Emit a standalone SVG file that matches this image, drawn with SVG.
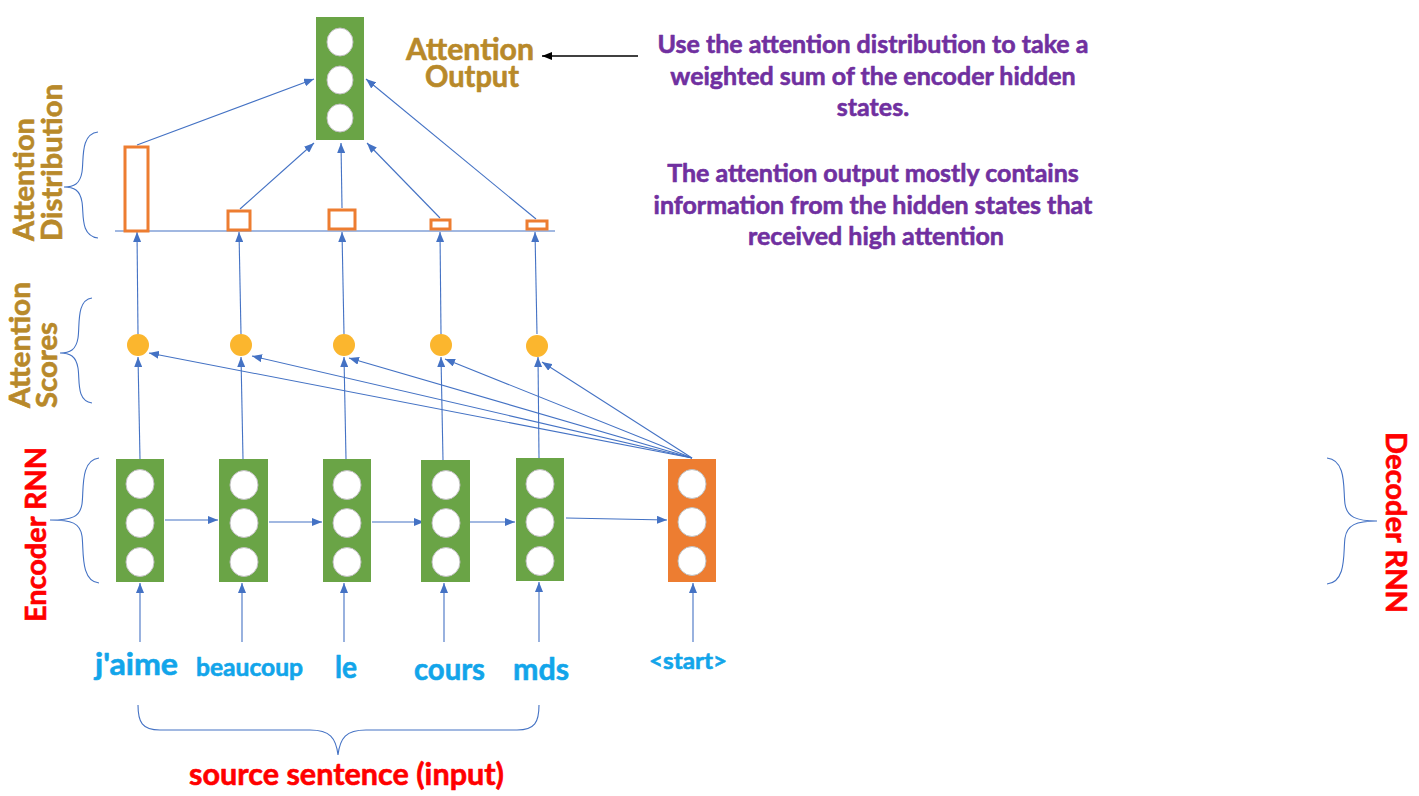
<svg xmlns="http://www.w3.org/2000/svg" width="1419" height="796" viewBox="0 0 1419 796">
<style>
.box{fill:#6AA446}
.dec{fill:#ED7D31}
.cell{fill:#fff;stroke:#BFBFBF;stroke-width:1}
.score{fill:#FBB62E}
.bar{fill:#fff;stroke:#ED7D31;stroke-width:3}
.ln{stroke:#4472C4;stroke-width:1.1;fill:none}
.arr{stroke:#4472C4;stroke-width:1.1;fill:none;marker-end:url(#ah)}
.brace{stroke:#4472C4;stroke-width:1.1;fill:none}
.t{font-family:Lato,"Liberation Sans",sans-serif;font-weight:bold;stroke-width:0.6;stroke-linejoin:round}
.gold{fill:#B8892A;stroke:#B8892A}
.red{fill:#FF0000;stroke:#FF0000}
.blue{fill:#12A5EA;stroke:#12A5EA}
.purple{fill:#7030A0;stroke:#7030A0}
</style>
<defs>
<marker id="ah" markerUnits="userSpaceOnUse" markerWidth="10" markerHeight="8" refX="10" refY="4" orient="auto"><path d="M0,0 L10,4 L0,8 z" fill="#4472C4"/></marker>
<marker id="ahk" markerUnits="userSpaceOnUse" markerWidth="10" markerHeight="8" refX="10" refY="4" orient="auto"><path d="M0,0 L10,4 L0,8 z" fill="#000"/></marker>
</defs>

<g id="connectors">
<line class="arr" x1="140" y1="642" x2="140" y2="583"/>
<line class="arr" x1="242" y1="642" x2="242" y2="583"/>
<line class="arr" x1="344" y1="642" x2="344" y2="583"/>
<line class="arr" x1="444" y1="642" x2="444" y2="583"/>
<line class="arr" x1="539" y1="642" x2="539" y2="582"/>
<line class="arr" x1="693" y1="642" x2="693" y2="583"/>
<line class="arr" x1="165" y1="520" x2="218" y2="520"/>
<line class="arr" x1="269" y1="522" x2="322" y2="522"/>
<line class="arr" x1="372" y1="522" x2="424" y2="522"/>
<line class="arr" x1="470" y1="522" x2="515" y2="522"/>
<line class="arr" x1="566" y1="518" x2="667" y2="520"/>
<line class="arr" x1="140" y1="459" x2="138" y2="357"/>
<line class="arr" x1="243" y1="459" x2="241" y2="357"/>
<line class="arr" x1="346" y1="459" x2="344" y2="357"/>
<line class="arr" x1="443" y1="460" x2="441" y2="357"/>
<line class="arr" x1="539" y1="458" x2="538" y2="357"/>
<line class="arr" x1="692" y1="458" x2="149" y2="353"/>
<line class="arr" x1="692" y1="458" x2="252" y2="356"/>
<line class="arr" x1="692" y1="458" x2="349" y2="358"/>
<line class="arr" x1="692" y1="458" x2="445" y2="359"/>
<line class="arr" x1="692" y1="458" x2="542" y2="362"/>
<line class="arr" x1="138" y1="334" x2="137" y2="232"/>
<line class="arr" x1="241" y1="334" x2="239" y2="232"/>
<line class="arr" x1="344" y1="334" x2="342" y2="232"/>
<line class="arr" x1="441" y1="334" x2="440" y2="232"/>
<line class="arr" x1="537" y1="334" x2="535" y2="232"/>
<line class="ln" x1="115" y1="231" x2="555" y2="231"/>
<line class="arr" x1="137" y1="145" x2="314" y2="79"/>
<line class="arr" x1="240" y1="209" x2="314" y2="143"/>
<line class="arr" x1="342" y1="208" x2="341" y2="143"/>
<line class="arr" x1="440" y1="218" x2="367" y2="143"/>
<line class="arr" x1="536" y1="219" x2="366" y2="79"/>
<line x1="638" y1="56" x2="542" y2="56" stroke="#000" stroke-width="1.5" marker-end="url(#ahk)"/>
</g>

<g id="braces">
<path class="brace" d="M98,132 C80,134 84,160 82,172 C80,184 74,187 64,187 C74,187 80,190 82,202 C84,214 80,236 98,238"/>
<path class="brace" d="M92,298 C76,300 80,326 78,338 C76,350 70,353 60,353 C70,353 76,356 78,368 C80,380 76,401 92,403"/>
<path class="brace" d="M99,458 C80,460 84,490 82,504 C80,517 72,520 50,520 C72,520 80,523 82,536 C84,550 80,581 99,583"/>
<path class="brace" d="M1327,458 C1347,460 1343,490 1345,504 C1347,517 1356,521 1377,521 C1356,521 1347,525 1345,538 C1343,552 1347,582 1327,584"/>
<path class="brace" d="M138,705 C138,722 142,730 160,730 L310,730 C330,730 336,738 338,755 C340,738 346,730 366,730 L517,730 C535,730 539,722 539,705"/>
</g>

<g id="enc1"><rect class="box" x="116" y="459" width="48" height="123"/><ellipse class="cell" cx="140" cy="484" rx="14" ry="14.5"/><ellipse class="cell" cx="140" cy="523" rx="14" ry="14.5"/><ellipse class="cell" cx="140" cy="562" rx="14" ry="14.5"/></g>
<g id="enc2"><rect class="box" x="219" y="459" width="49" height="123"/><ellipse class="cell" cx="244" cy="485" rx="14" ry="14.5"/><ellipse class="cell" cx="244" cy="523" rx="14" ry="14.5"/><ellipse class="cell" cx="244" cy="562" rx="14" ry="14.5"/></g>
<g id="enc3"><rect class="box" x="323" y="459" width="48" height="123"/><ellipse class="cell" cx="347" cy="485" rx="14" ry="14.5"/><ellipse class="cell" cx="347" cy="523" rx="14" ry="14.5"/><ellipse class="cell" cx="347" cy="562" rx="14" ry="14.5"/></g>
<g id="enc4"><rect class="box" x="421" y="460" width="49" height="122"/><ellipse class="cell" cx="446" cy="485" rx="14" ry="14.5"/><ellipse class="cell" cx="446" cy="523" rx="14" ry="14.5"/><ellipse class="cell" cx="446" cy="562" rx="14" ry="14.5"/></g>
<g id="enc5"><rect class="box" x="516" y="458" width="48" height="123"/><ellipse class="cell" cx="540" cy="484" rx="14" ry="14.5"/><ellipse class="cell" cx="540" cy="522" rx="14" ry="14.5"/><ellipse class="cell" cx="540" cy="561" rx="14" ry="14.5"/></g>
<g id="dec1"><rect class="dec" x="668" y="459" width="48" height="123"/><ellipse class="cell" cx="692" cy="484" rx="14" ry="14.5"/><ellipse class="cell" cx="692" cy="522" rx="14" ry="14.5"/><ellipse class="cell" cx="692" cy="561" rx="14" ry="14.5"/></g>

<g id="scores">
<circle class="score" cx="138" cy="345" r="11"/>
<circle class="score" cx="241" cy="345" r="11"/>
<circle class="score" cx="344" cy="345" r="11"/>
<circle class="score" cx="441" cy="345" r="11"/>
<circle class="score" cx="537" cy="346" r="11"/>
</g>

<g id="distribution">
<rect class="bar" x="125" y="147" width="23" height="84"/>
<rect class="bar" x="228" y="211" width="22" height="19"/>
<rect class="bar" x="329" y="210" width="26" height="19"/>
<rect class="bar" x="431" y="220" width="19" height="9"/>
<rect class="bar" x="527" y="221" width="20" height="8"/>
</g>

<g id="output"><rect class="box" x="316" y="17" width="48" height="123"/><ellipse class="cell" cx="340" cy="42" rx="13" ry="14"/><ellipse class="cell" cx="340" cy="80" rx="13" ry="14"/><ellipse class="cell" cx="340" cy="118" rx="13" ry="14"/></g>

<g id="labels">
<text class="t gold" font-size="30" x="406" y="60" textLength="128" lengthAdjust="spacingAndGlyphs">Attention</text>
<text class="t gold" font-size="30" x="425" y="87" textLength="94" lengthAdjust="spacingAndGlyphs">Output</text>
<text class="t purple" font-size="25" text-anchor="middle">
<tspan x="876" y="53">Use the attention distribution to take a</tspan>
<tspan x="876" y="85">weighted sum of the encoder hidden</tspan>
<tspan x="876" y="116">states.</tspan>
<tspan x="876" y="182">The attention output mostly contains</tspan>
<tspan x="876" y="214">information from the hidden states that</tspan>
<tspan x="876" y="245">received high attention</tspan>
</text>
<text class="t gold" font-size="29" transform="translate(34,241) rotate(-90)" textLength="123" lengthAdjust="spacingAndGlyphs">Attention</text>
<text class="t gold" font-size="29" transform="translate(62,241) rotate(-90)" textLength="157" lengthAdjust="spacingAndGlyphs">Distribution</text>
<text class="t gold" font-size="29" transform="translate(30,408) rotate(-90)" textLength="126" lengthAdjust="spacingAndGlyphs">Attention</text>
<text class="t gold" font-size="29" transform="translate(57,408) rotate(-90)" textLength="86" lengthAdjust="spacingAndGlyphs">Scores</text>
<text class="t red" font-size="29" transform="translate(46,622) rotate(-90)" textLength="175" lengthAdjust="spacingAndGlyphs">Encoder RNN</text>
<text class="t red" font-size="29" transform="translate(1386,432) rotate(90)" textLength="181" lengthAdjust="spacingAndGlyphs">Decoder RNN</text>
<text class="t blue" font-size="31" x="95" y="675" textLength="83" lengthAdjust="spacingAndGlyphs">j'aime</text>
<text class="t blue" font-size="24" x="196" y="676" textLength="107" lengthAdjust="spacingAndGlyphs">beaucoup</text>
<text class="t blue" font-size="30" x="335" y="678" textLength="22" lengthAdjust="spacingAndGlyphs">le</text>
<text class="t blue" font-size="30" x="414" y="680" textLength="71" lengthAdjust="spacingAndGlyphs">cours</text>
<text class="t blue" font-size="30" x="513" y="680" textLength="56" lengthAdjust="spacingAndGlyphs">mds</text>
<text class="t blue" font-size="23" x="649" y="669" textLength="78" lengthAdjust="spacingAndGlyphs">&lt;start&gt;</text>
<text class="t red" font-size="30" x="189" y="785" textLength="315" lengthAdjust="spacingAndGlyphs">source sentence (input)</text>
</g>
</svg>
